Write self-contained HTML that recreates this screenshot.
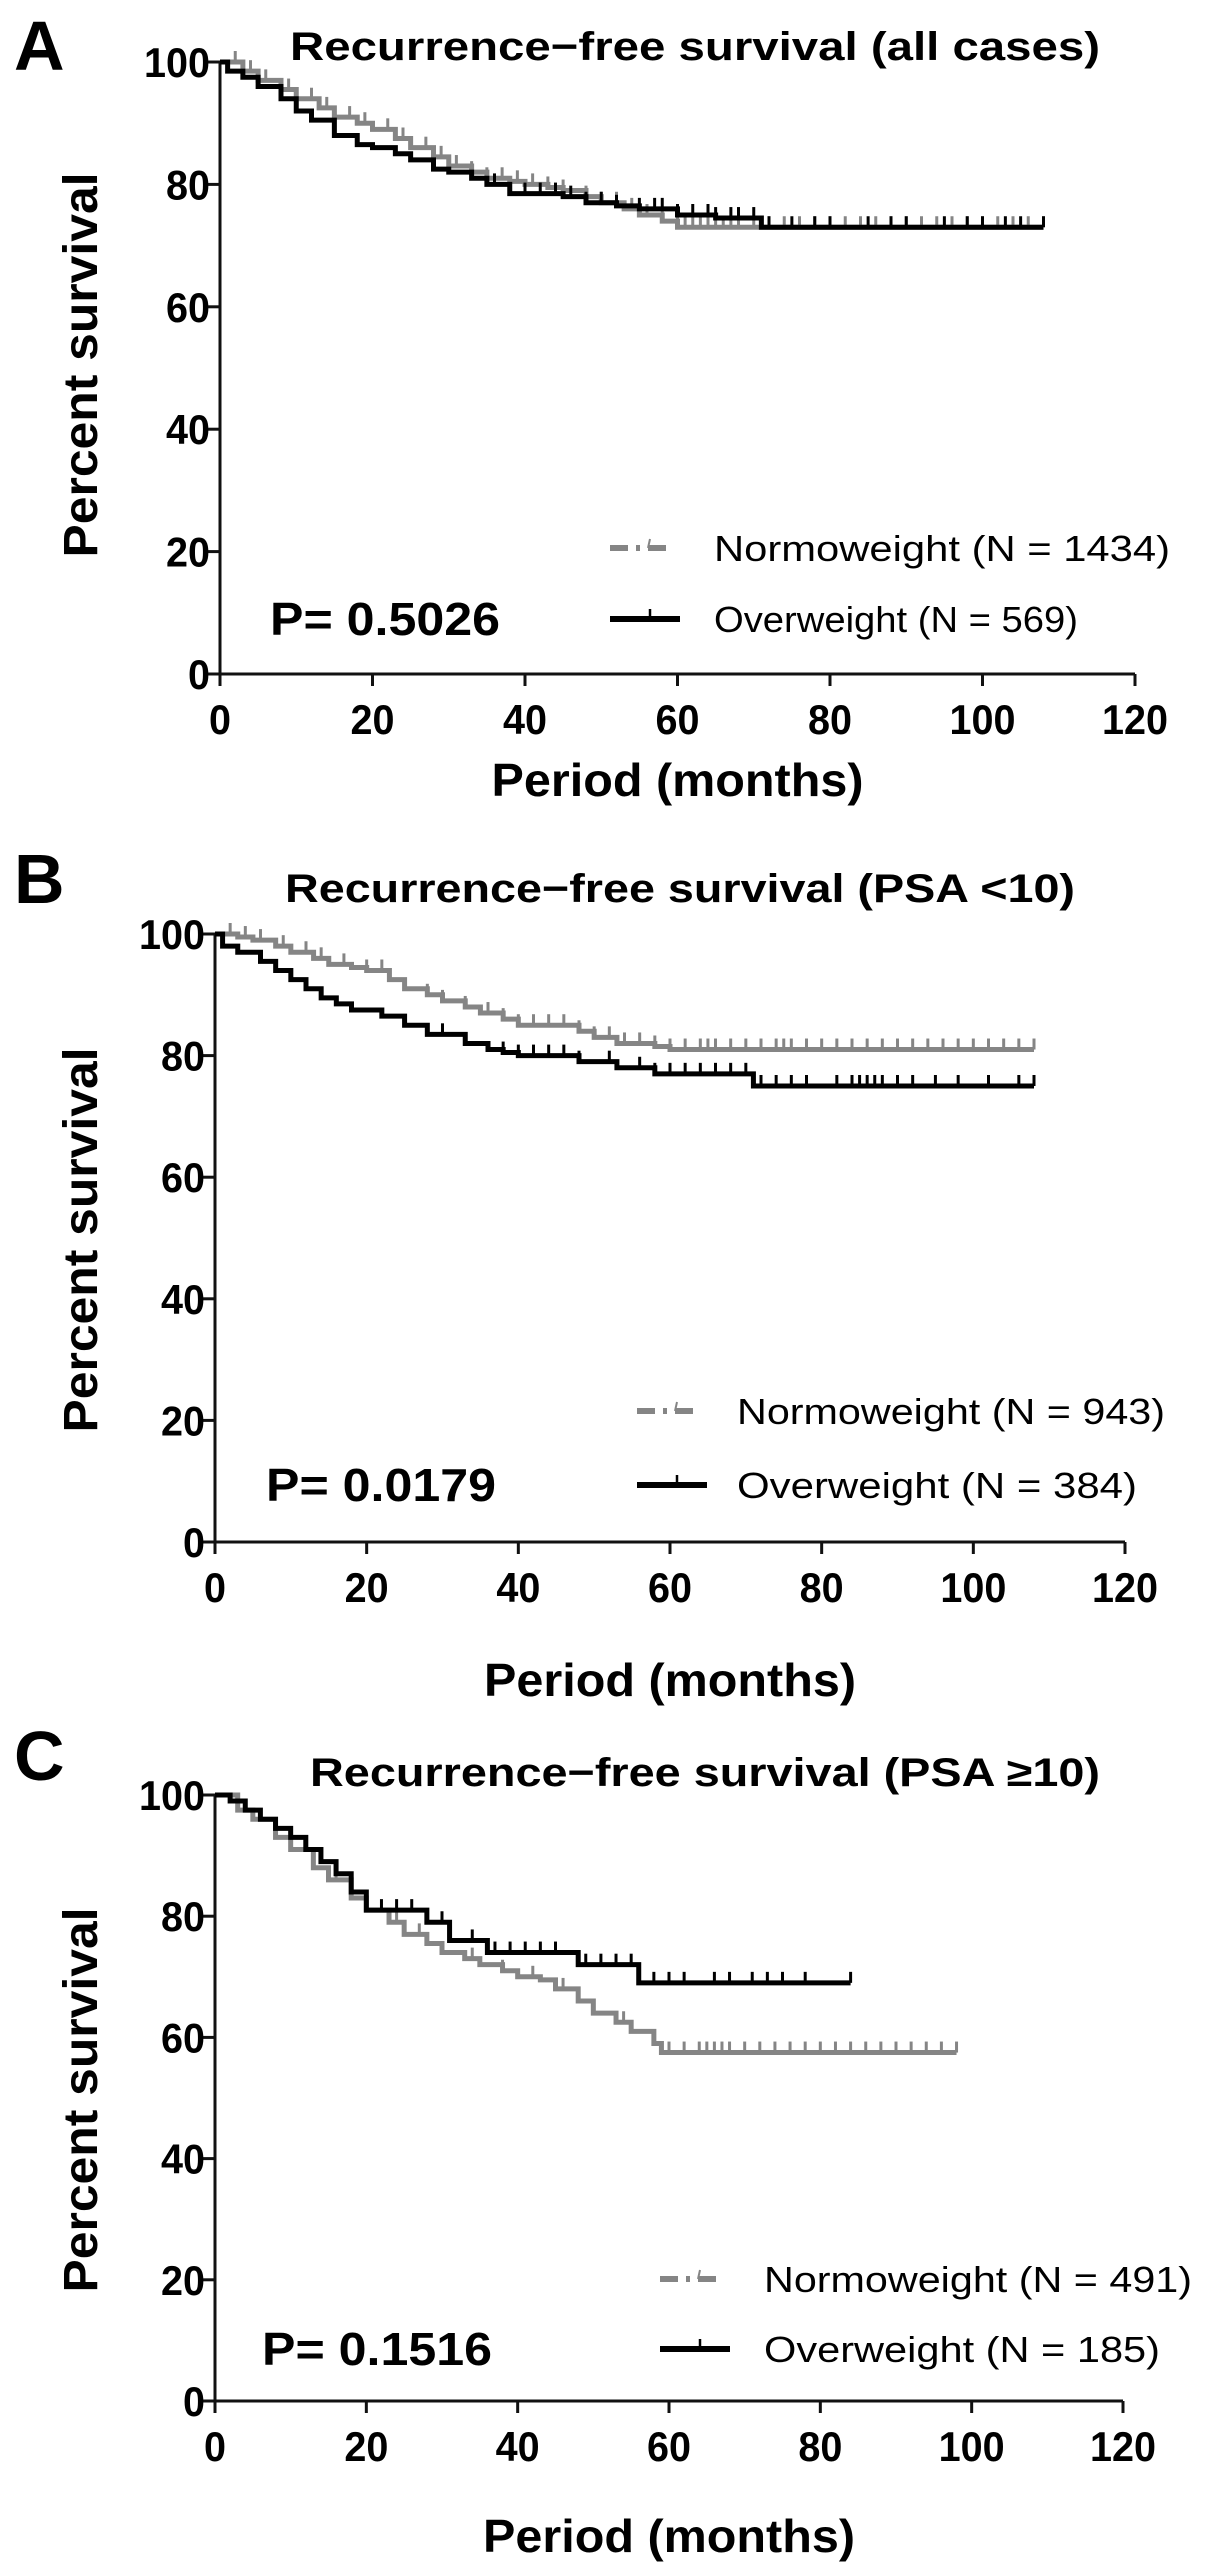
<!DOCTYPE html>
<html><head><meta charset="utf-8"><style>
html,body{margin:0;padding:0;background:#fff}
svg{display:block}
text{font-family:"Liberation Sans",Arial,sans-serif}
</style></head><body>
<svg id="fig" width="1205" height="2565" viewBox="0 0 1205 2565" xmlns="http://www.w3.org/2000/svg"></svg>
<script>
const xTicks=[0,20,40,60,80,100,120];
const yTicks=[0,20,40,60,80,100];
// Panel A
const aNormT=[0,3,5,8,10,13,15,18,20,23,25,28,30,33,35,38,40,43,45,48,50,53,55,58,60,108];
const aNormS=[100,98.5,97,95.5,94,92.5,91,90,89,87.5,86,84.5,83,82,81,80.5,80,79.5,79,78,77,76,75,74,73,73];
const aOverT=[0,1,3,5,8,10,12,15,18,20,23,25,28,30,33,35,38,45,48,52,55,60,65,71,108];
const aOverS=[100,98.5,97.5,96,94,92,90.5,88,86.5,86,85,84,82.5,82,81,80,78.5,78,77,76.5,76,75,74.5,73,73];
const aNormC=[2,4,6,9,12,14,17,19,22,24,27,29,31,33,35,37,39,41,43,45,48,50,52,54,56,58,60,61,62,63,64,65,66,67,68,70,72,74,76,78,80,82,84,86,88,90,92,94,96,98,100,102,104,106,108];
const aOverC=[36,40,42,44,46,48,50,52,55,57,58,60,62,64,65,67,68,70,72,75,78,80,85,88,90,95,98,100,103,105,108];
// Panel B
const bNormT=[0,3,5,8,10,13,15,18,20,23,25,28,30,33,35,38,40,45,48,50,53,55,58,60,108];
const bNormS=[100,99.5,99,98,97,96,95,94.5,94,92.5,91,90,89,88,87,86,85,85,84,83,82,82,81.5,81,81];
const bOverT=[0,1,3,6,8,10,12,14,16,18,22,25,28,33,36,38,40,48,53,58,71,108];
const bOverS=[100,98,97,95.5,94,92.5,91,89.5,88.5,87.5,86.5,85,83.5,82,81,80.5,80,79,78,77,75,75];
const bNormC=[2,4,6,9,12,14,17,20,22,25,28,30,33,36,38,40,42,44,46,48,50,52,54,56,58,60,62,64,65,66,68,70,72,74,75,76,78,80,82,84,86,88,90,92,94,96,98,100,102,104,106,108];
const bOverC=[28,30,38,40,42,44,46,48,52,56,58,60,62,64,66,68,70,72,74,76,78,82,84,85,86,87,88,90,92,95,98,102,106,108];
// Panel C
const cNormT=[0,3,5,8,10,13,15,18,20,23,25,28,30,33,35,38,40,43,45,48,50,53,55,58,59,98];
const cNormS=[100,97.5,96,93,91,88,86,83,81,79,77,75.5,74,73,72,71,70,69.5,68,66,64,62.5,61,59,57.5,57.5];
const cOverT=[0,2,4,6,8,10,12,14,16,18,20,28,31,36,48,56,84];
const cOverS=[100,99,97.5,96,94.5,93,91,89,87,84,81,79,76,74,72,69,69];
const cNormC=[4,8,12,16,20,24,27,30,34,38,42,46,50,54,58,60,62,64,65,66,67,68,70,72,74,76,78,80,82,84,86,88,90,92,94,96,98];
const cOverC=[22,24,26,30,34,37,39,41,43,45,49,51,53,55,58,60,62,66,68,71,73,75,78,84];

const titles=["Recurrence\u2212free survival (all cases)","Recurrence\u2212free survival (PSA <10)","Recurrence\u2212free survival (PSA \u226510)"];
const pvals=["P= 0.5026","P= 0.0179","P= 0.1516"];
const legNorm=["Normoweight (N = 1434)","Normoweight (N = 943)","Normoweight (N = 491)"];
const legOver=["Overweight (N = 569)","Overweight (N = 384)","Overweight (N = 185)"];
const letters=["A","B","C"];

const layouts=[
 {x0:220,x1:1135,yT:62,yB:674,ty:60,tx:695,tw:810,lx:610,ltx:714,ly1:548,ly2:619,px:270,ltw1:456,ltw2:400,xl:780,cy:365,let:[14,70]},
 {x0:215,x1:1125,yT:934,yB:1542,ty:902,tx:680,tw:790,lx:637,ltx:737,ly1:1411,ly2:1485,px:266,ltw1:428,ltw2:400,xl:1680,cy:1240,let:[14,903]},
 {x0:215,x1:1123,yT:1795,yB:2401,ty:1786,tx:705,tw:790,lx:660,ltx:764,ly1:2279,ly2:2349,px:262,ltw1:428,ltw2:396,xl:2536,cy:2100,let:[14,1780]}
];
const series=[
 [[aNormT,aNormS,aNormC],[aOverT,aOverS,aOverC]],
 [[bNormT,bNormS,bNormC],[bOverT,bOverS,bOverC]],
 [[cNormT,cNormS,cNormC],[cOverT,cOverS,cOverC]]
];
const NS="http://www.w3.org/2000/svg";
const svg=document.getElementById('fig');
function mk(tag,attrs,parent){const e=document.createElementNS(NS,tag);for(const k in attrs)e.setAttribute(k,attrs[k]);(parent||svg).appendChild(e);return e;}
function survAt(T,S,t){let v=S[0];for(let i=0;i<T.length;i++){if(T[i]<=t)v=S[i];}return v;}

layouts.forEach((L,p)=>{
 const g=mk('g',{});
 
 
 const X=v=>L.x0+(L.x1-L.x0)*v/120;
 const Y=v=>L.yB-(L.yB-L.yT)*v/100;
 let t;
 t=mk('text',{x:L.let[0],y:L.let[1],'font-size':70,'font-weight':'bold'},g);t.textContent=letters[p];
 
 
 t=mk('text',{x:L.tx,y:L.ty,'font-size':40,'font-weight':'bold','text-anchor':'middle',textLength:L.tw,lengthAdjust:'spacingAndGlyphs'},g);t.textContent=titles[p];
 
 
 const ax=mk('path',{d:`M${L.x0},${L.yT} V${L.yB} H${L.x1}`,stroke:'#111','stroke-width':3,fill:'none'},g);
 
 
 yTicks.forEach(v=>{
  mk('line',{x1:L.x0-12,x2:L.x0,y1:Y(v),y2:Y(v),stroke:'#111','stroke-width':3},g);
  const tl=mk('text',{x:L.x0-10,y:Y(v)+15,'font-size':42,'font-weight':'bold','text-anchor':'end',textLength:v==100?66:(v==0?22:44),lengthAdjust:'spacingAndGlyphs'},g);tl.textContent=v;
  
  
 });
 xTicks.forEach(v=>{
  mk('line',{x1:X(v),x2:X(v),y1:L.yB,y2:L.yB+12,stroke:'#111','stroke-width':3},g);
  const tl=mk('text',{x:X(v),y:L.yB+60,'font-size':42,'font-weight':'bold','text-anchor':'middle',textLength:v>=100?66:(v==0?22:44),lengthAdjust:'spacingAndGlyphs'},g);tl.textContent=v;
  
  
 });
 t=mk('text',{x:(L.x0+L.x1)/2,y:L.xl+16,'font-size':46,'font-weight':'bold','text-anchor':'middle',textLength:372,lengthAdjust:'spacingAndGlyphs'},g);t.textContent="Period (months)";
 
 
 t=mk('text',{x:0,y:0,'font-size':48,'font-weight':'bold','text-anchor':'middle',textLength:385,lengthAdjust:'spacingAndGlyphs',transform:`translate(97,${L.cy}) rotate(-90)`},g);t.textContent="Percent survival";
 
 
 series[p].forEach((s,si)=>{
  const [T,S,C]=s;
  const col=si==0?'#858585':'#000';
  let d=`M${X(T[0])},${Y(S[0])}`;
  for(let i=1;i<T.length;i++){d+=` H${X(T[i])} V${Y(S[i])}`;}
  const pth=mk('path',{d:d,stroke:col,'stroke-width':si==0?5:5,fill:'none'},g);
  
  
  C.forEach(c=>{
   const v=survAt(T,S,c);
   const tk=mk('line',{x1:X(c),x2:X(c),y1:Y(v)-11,y2:Y(v),stroke:col,'stroke-width':3},g);
   
   
  });
 });
 const lg1=mk('line',{x1:L.lx,x2:L.lx+70,y1:L.ly1,y2:L.ly1,stroke:'#858585','stroke-width':6,'stroke-dasharray':'18,8,4,8,18'},g);
 
 
 mk('line',{x1:L.lx+40,x2:L.lx+38,y1:L.ly1-9,y2:L.ly1,stroke:'#858585','stroke-width':2},g);
 t=mk('text',{x:L.ltx,y:L.ly1+13,'font-size':36,textLength:L.ltw1,lengthAdjust:'spacingAndGlyphs'},g);t.textContent=legNorm[p];
 
 
 const lg2=mk('line',{x1:L.lx,x2:L.lx+70,y1:L.ly2,y2:L.ly2,stroke:'#000','stroke-width':6},g);
 
 
 mk('line',{x1:L.lx+40,x2:L.lx+40,y1:L.ly2-10,y2:L.ly2,stroke:'#000','stroke-width':2.5},g);
 t=mk('text',{x:L.ltx,y:L.ly2+13,'font-size':36,textLength:L.ltw2*(p==0?0.91:1),lengthAdjust:'spacingAndGlyphs'},g);t.textContent=legOver[p];
 
 
 t=mk('text',{x:L.px,y:L.ly2+16,'font-size':46,'font-weight':'bold',textLength:230,lengthAdjust:'spacingAndGlyphs'},g);t.textContent=pvals[p];
 
 
});
</script>
</body></html>
